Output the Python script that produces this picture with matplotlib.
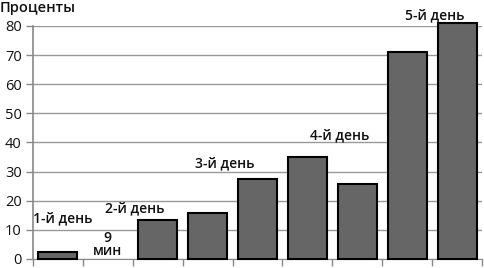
import matplotlib
matplotlib.use('Agg')
import matplotlib.pyplot as plt

# bar values (percent), one per category; the 2nd slot ("9 мин") is empty
values = [2.3, 0, 13.5, 15.8, 27.5, 35.0, 25.8, 71.0, 81.1]
positions = list(range(len(values)))

# annotations: text, x (category units), y (percent)
notes = ['1-й день', '9\nмин', '2-й день', '3-й день', '4-й день', '5-й день']
notes_x = [0.09, 1.0, 1.54, 3.34, 5.64, 7.56]
notes_y = [13.9, 5.0, 17.3, 32.9, 42.4, 83.7]

yticks = [0, 10, 20, 30, 40, 50, 60, 70, 80]

plt.rcParams['font.family'] = ['Open Sans', 'DejaVu Sans']

fig = plt.figure(figsize=(4.85, 2.68), dpi=100)
ax = fig.add_axes([0.068, 0.0336, 0.926, 0.8694])

bars = ax.bar(positions, values, width=0.78, color='#666666',
              edgecolor='black', linewidth=1.5, zorder=3)
for b, v in zip(bars, values):
    b.set_clip_on(False)
    if v == 0:
        b.set_visible(False)

ax.set_xlim(-0.5, len(values) - 0.5)
ax.set_ylim(0, 80)
ax.set_yticks(yticks)
ax.set_yticklabels([str(t) for t in yticks], fontsize=10.5, color='#111111',
                   va='center_baseline')
ax.set_xticks([p - 0.5 for p in positions] + [len(values) - 0.5])
ax.set_xticklabels([])
ax.tick_params(axis='y', length=5, width=1, color='#888888', pad=3)
ax.tick_params(axis='x', length=5, width=1, color='#888888')

ax.grid(axis='y', color='#999999', linewidth=1, zorder=0)
for s in ['top', 'right']:
    ax.spines[s].set_visible(False)
ax.spines['left'].set_color('#888888')
ax.spines['bottom'].set_color('#888888')
ax.spines['left'].set_linewidth(1.2)

for t, x, y in zip(notes, notes_x, notes_y):
    ax.text(x, y, t, ha='center', va='center', fontsize=10,
            fontweight='semibold', color='#111111', linespacing=0.85)

fig.text(0.0, 0.998, 'Проценты', ha='left', va='top', fontsize=10.5,
         fontweight='semibold', color='#111111')

fig.savefig('out.png', dpi=100)
